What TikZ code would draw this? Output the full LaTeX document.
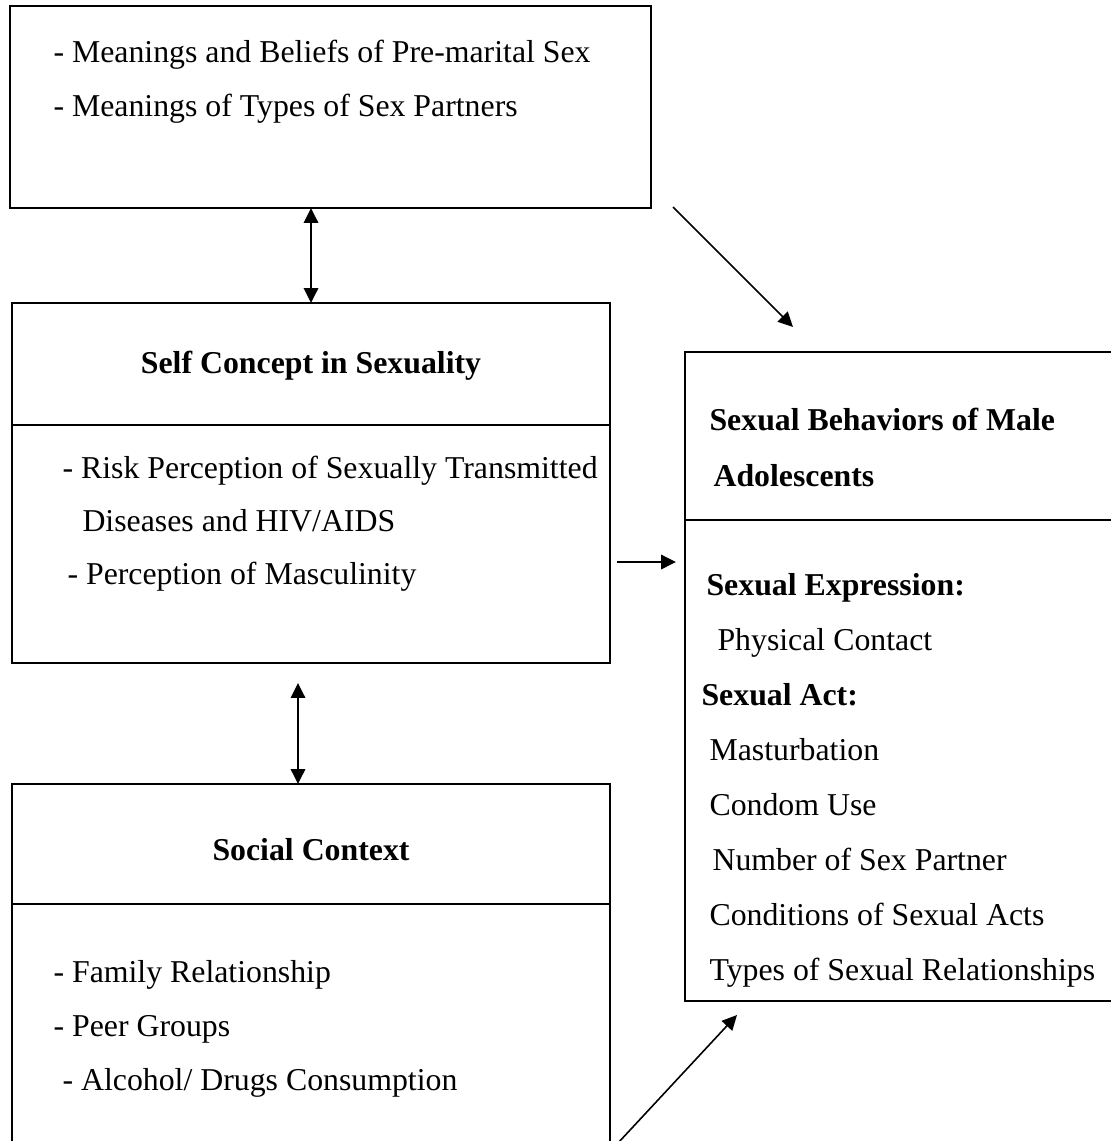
\documentclass[tikz,border=0pt]{standalone}
\usepackage{fontspec}
\setmainfont{Liberation Serif}
\usetikzlibrary{arrows.meta,positioning,calc}
\def\unitpx{0.013264cm}
\tikzset{
    frame box/.style={
        draw,line width=0.8pt,
        inner sep=0,outer sep=0,
        anchor=north west
    },
    frame line/.style={line width=0.8pt},
    item text/.style={
        inner sep=0,anchor=base west,
        font=\fontsize{12pt}{14pt}\selectfont
    },
    title text/.style={item text,anchor=base,font=\fontsize{12pt}{14pt}\selectfont\bfseries},
    link/.style={line width=0.75pt},
    thin link/.style={line width=0.6pt},
    >={Triangle[length=5.6pt,width=5.4pt]}
}

\begin{document}
\begin{tikzpicture}[x=\unitpx,y=-\unitpx]
\useasboundingbox (0,0) rectangle (1111,1141);
\clip (0,0) rectangle (1111,1141);
% boxes
\node[frame box,minimum width=641*\unitpx,minimum height=202*\unitpx] (beliefs) at (10,6) {};
\node[frame box,minimum width=598*\unitpx,minimum height=360*\unitpx] (self) at (12,303) {};
\node[frame box,minimum width=598*\unitpx,minimum height=400*\unitpx] (social) at (12,784) {};
\node[frame box,minimum width=450*\unitpx,minimum height=649*\unitpx] (behav) at (685,352) {};
\draw[frame line] (self.west |- 0,425) -- (self.east |- 0,425);
\draw[frame line] (social.west |- 0,904) -- (social.east |- 0,904);
\draw[frame line] (behav.west |- 0,520) -- (behav.east |- 0,520);
% texts
\foreach \i/\x/\y/\txt in {1/53/63/{- Meanings and Beliefs of Pre-marital Sex},2/53/117/{- Meanings of Types of Sex Partners}}
    \node[item text] (bel\i) at (\x,\y) {\txt};
\node[title text] (selftitle) at (self.north |- 0,373) {Self Concept in Sexuality};
\foreach \i/\x/\y/\txt in {1/62/478/{- Risk Perception of Sexually Transmitted},2/82/531/{Diseases and HIV/AIDS},3/67/584/{- Perception of Masculinity}}
    \node[item text] (self\i) at (\x,\y) {\txt};
\node[title text] (soctitle) at (social.north |- 0,860) {Social Context};
\foreach \i/\x/\y/\txt in {1/53/982/{- Family Relationship},2/53/1036/{- Peer Groups},3/62/1090/{- Alcohol/ Drugs Consumption}}
    \node[item text] (soc\i) at (\x,\y) {\txt};
\foreach \i/\x/\y/\txt in {1/709/430/{\textbf{Sexual Behaviors of Male}},2/713/486/{\textbf{Adolescents}},
    3/706/595/{\textbf{Sexual Expression:}},4/717/650/{Physical Contact},5/701/705/{\textbf{Sexual Act:}},
    6/709/760/{Masturbation},7/709/815/{Condom Use},8/712/870/{Number of Sex Partner},
    9/709/925/{Conditions of Sexual Acts},10/709/980/{Types of Sexual Relationships}}
    \node[item text] (beh\i) at (\x,\y) {\txt};
% connectors
\draw[link,<->] (self.north) -- (self.north |- beliefs.south);
\coordinate (selfgap) at (298,683);
\draw[link,<->] (selfgap) -- (selfgap |- social.north);
\coordinate (selfout) at (617,562);
\coordinate (behavin) at (676,562);
\draw[link,->] (selfout) -- (behavin);
\coordinate (beliefsout) at (673,207);
\coordinate (behavtop) at (793,327);
\draw[thin link,->] (beliefsout) -- (behavtop);
\coordinate (socialout) at (618,1143);
\coordinate (behavbot) at (737,1015);
\draw[thin link,->] (socialout) -- (behavbot);
\end{tikzpicture}
\end{document}
